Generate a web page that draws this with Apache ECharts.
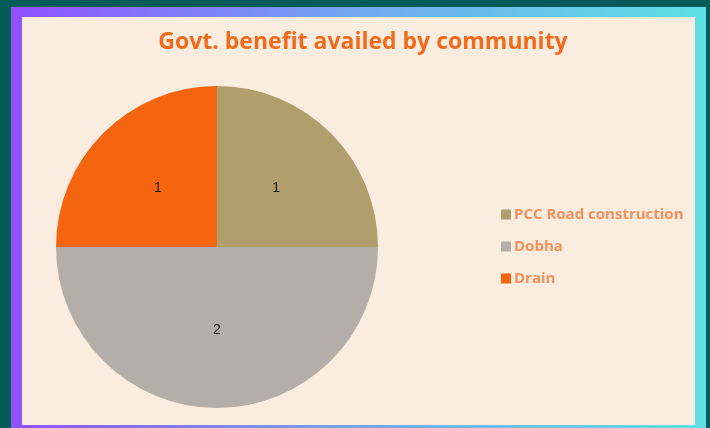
<!DOCTYPE html>
<html><head><meta charset="utf-8">
<script src="https://cdn.jsdelivr.net/npm/echarts@6/dist/echarts.min.js"></script>
<style>html,body{margin:0;padding:0;background:#055a5a;}#c{width:710px;height:428px;}</style>
</head><body><div id="c"></div>
<script>
const categories = ["PCC Road construction", "Dobha", "Drain"];
const values = [1, 2, 1];
const colors = ["#b09f6c", "#b5ada7", "#f5650f"];
const titleText = "Govt. benefit availed by community";

const chart = echarts.init(document.getElementById('c'), null, {renderer: 'canvas'});
chart.setOption({
  backgroundColor: '#055a5a',
  animation: false,
  graphic: [
    {type: 'rect', z: -10, shape: {x: 11, y: 7, width: 695, height: 421},
     style: {fill: new echarts.graphic.LinearGradient(0, 0, 1, 0, [
       {offset: 0, color: '#8f52ff'}, {offset: 0.5, color: '#72a8f0'}, {offset: 1, color: '#5de0e2'}])}},
    {type: 'rect', z: -9, shape: {x: 22, y: 17, width: 673, height: 408}, style: {fill: '#fbece0'}}
  ],
  title: {
    text: titleText, left: 358, top: 26, textAlign: 'center',
    textStyle: {color: '#f26b1d', fontSize: 23, fontWeight: 'bold', fontFamily: 'Open Sans'}
  },
  legend: {
    orient: 'vertical', left: 496, top: 202, itemGap: 17,
    itemWidth: 10, itemHeight: 10, icon: 'rect',
    textStyle: {color: '#f5905a', fontSize: 15, fontWeight: 'bold', fontFamily: 'Open Sans', padding: [0,0,0,-2]},
    data: categories
  },
  series: [{
    type: 'pie', center: [217, 247], radius: 161, startAngle: 90, clockwise: true,
    silent: true,
    label: {position: 'inside', formatter: '{c}', color: '#1a1a1a', fontSize: 14, fontFamily: 'Liberation Sans', padding: [6,0,0,0]},
    labelLine: {show: false},
    itemStyle: {borderWidth: 0},
    data: categories.map((n, i) => ({name: n, value: values[i], itemStyle: {color: colors[i]}}))
  }]
});
</script></body></html>
